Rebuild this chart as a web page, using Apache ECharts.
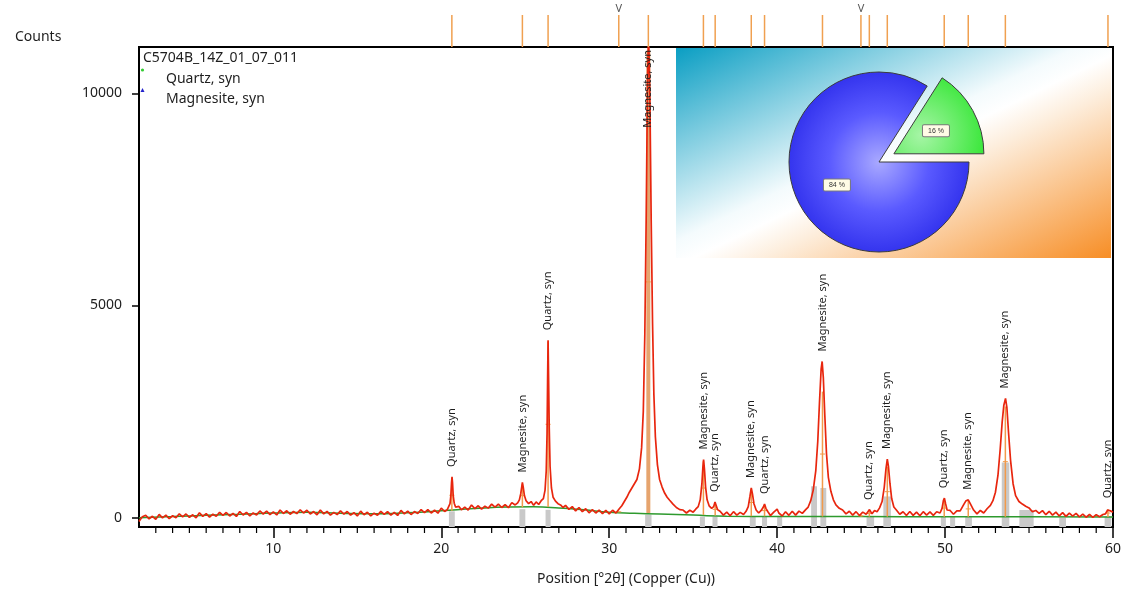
<!DOCTYPE html>
<html><head><meta charset="utf-8">
<script src="https://cdn.jsdelivr.net/npm/echarts@6/dist/echarts.min.js"></script>
<style>html,body{margin:0;padding:0;background:#fff}#c{width:1138px;height:590px}</style>
</head><body><div id="c"></div><script>
// ---------- data ----------
const sampleName = 'C5704B_14Z_01_07_011';
const phaseNames = ['Quartz, syn', 'Magnesite, syn'];
const yTitle = 'Counts';
const xTitle = 'Position [°2θ] (Copper (Cu))';
const xTicks = [10, 20, 30, 40, 50, 60];
const xMinorTicks = [3,4,5,6,7,8,9,11,12,13,14,15,16,17,18,19,21,22,23,24,25,26,27,28,29,31,32,33,34,35,36,37,38,39,41,42,43,44,45,46,47,48,49,51,52,53,54,55,56,57,58,59];
const yTicks = [0, 5000, 10000];

// measured scan [2theta, counts]
const profile = [
[2.0,-90],[2.1,-30],[2.2,20],[2.4,55],[2.6,-29],[2.8,33],[3.0,-40],[3.2,78],[3.4,-4],[3.6,59],[3.8,-23],[4.0,45],
[4.2,-2],[4.4,91],[4.6,19],[4.8,87],[5.0,5],[5.2,68],[5.4,-4],[5.6,114],[5.8,32],[6.0,95],[6.2,13],[6.4,81],
[6.6,34],[6.8,127],[7.0,55],[7.2,122],[7.4,39],[7.6,101],[7.8,28],[8.0,145],[8.2,63],[8.4,126],[8.6,44],[8.8,112],
[9.0,65],[9.2,158],[9.4,86],[9.6,154],[9.8,72],[10.0,135],[10.2,63],[10.4,181],[10.6,99],[10.8,162],[11.0,80],
[11.2,145],[11.4,95],[11.6,185],[11.8,110],[12.0,175],[12.2,87],[12.4,144],[12.6,66],[12.8,178],[13.0,90],
[13.2,148],[13.4,61],[13.6,124],[13.8,72],[14.0,160],[14.2,83],[14.4,146],[14.6,59],[14.8,117],[15.0,40],[15.2,154],
[15.4,68],[15.6,127],[15.8,41],[16.0,105],[16.2,57],[16.4,149],[16.6,76],[16.8,143],[17.0,60],[17.2,124],[17.4,53],
[17.6,172],[17.8,91],[18.0,155],[18.2,74],[18.4,143],[18.6,97],[18.8,191],[19.0,120],[19.2,190],[19.4,110],[19.6,175],
[19.8,105],[20.0,225],[20.2,145],[20.35,185],[20.45,230],[20.52,330],[20.57,520],[20.61,820],[20.64,960],[20.67,820],
[20.71,520],[20.77,340],[20.85,250],[20.95,215],[21.05,265],[21.2,185],[21.4,250],[21.6,180],[21.8,298],[22.0,215],
[22.2,280],[22.4,200],[22.6,270],[22.8,225],[23.0,320],[23.2,250],[23.4,320],[23.6,240],[23.8,305],[24.0,235],
[24.2,355],[24.4,300],[24.55,350],[24.65,420],[24.73,560],[24.79,720],[24.83,830],[24.88,720],[24.95,520],[25.05,400],
[25.2,330],[25.35,380],[25.5,290],[25.65,370],[25.8,310],[25.95,400],[26.08,450],[26.18,650],[26.25,1100],[26.3,2000],
[26.33,3200],[26.36,4180],[26.39,3300],[26.43,2100],[26.48,1200],[26.56,700],[26.66,480],[26.8,390],[26.95,330],
[27.1,300],[27.25,240],[27.4,290],[27.6,195],[27.8,260],[28.0,160],[28.2,240],[28.4,140],[28.6,210],[28.8,115],
[29.0,190],[29.2,110],[29.4,180],[29.6,95],[29.8,170],[30.0,90],[30.2,175],[30.4,110],[30.6,210],[30.75,280],
[30.9,380],[31.05,480],[31.2,600],[31.35,700],[31.5,800],[31.65,900],[31.8,1150],[31.93,1650],[32.03,2500],[32.12,4300],
[32.2,7000],[32.28,10200],[32.34,11500],[32.42,10000],[32.5,7000],[32.58,4600],[32.66,2900],[32.75,1900],[32.87,1250],
[33.0,900],[33.15,720],[33.3,580],[33.45,480],[33.6,410],[33.8,320],[34.0,240],[34.2,190],[34.4,180],[34.6,110],
[34.8,175],[35.0,130],[35.15,200],[35.3,260],[35.42,420],[35.52,800],[35.58,1200],[35.62,1370],[35.67,1150],[35.74,720],
[35.83,420],[35.95,280],[36.1,220],[36.22,260],[36.3,370],[36.36,300],[36.45,190],[36.6,150],[36.8,60],[37.0,130],
[37.2,45],[37.4,140],[37.6,60],[37.8,125],[38.0,75],[38.15,150],[38.28,260],[38.38,500],[38.46,700],[38.53,560],
[38.62,330],[38.75,180],[38.9,110],[39.05,170],[39.18,250],[39.25,320],[39.33,220],[39.45,140],[39.6,50],[39.8,130],
[40.0,200],[40.1,110],[40.3,40],[40.5,140],[40.7,55],[40.9,150],[41.1,60],[41.3,155],[41.5,100],[41.7,190],[41.85,250],
[42.0,400],[42.15,650],[42.3,1100],[42.42,1800],[42.52,2700],[42.62,3500],[42.68,3680],[42.75,3300],[42.84,2400],
[42.94,1500],[43.05,950],[43.2,620],[43.35,420],[43.5,300],[43.7,220],[43.9,180],[44.1,90],[44.3,150],[44.5,60],
[44.7,140],[44.9,50],[45.1,130],[45.3,80],[45.5,190],[45.65,90],[45.8,170],[45.95,140],[46.1,230],[46.25,380],
[46.38,720],[46.48,1150],[46.56,1380],[46.63,1200],[46.72,800],[46.82,450],[46.95,250],[47.1,180],[47.3,80],[47.5,140],
[47.7,50],[47.9,145],[48.1,55],[48.3,130],[48.5,45],[48.7,140],[48.9,60],[49.1,135],[49.3,55],[49.5,140],[49.7,110],
[49.82,220],[49.9,400],[49.96,460],[50.03,330],[50.12,180],[50.3,170],[50.5,80],[50.7,160],[50.9,160],[51.1,300],
[51.25,400],[51.38,420],[51.5,330],[51.7,180],[51.9,90],[52.1,170],[52.3,110],[52.5,210],[52.7,290],[52.85,400],
[53.0,600],[53.15,1000],[53.28,1600],[53.4,2250],[53.5,2650],[53.6,2810],[53.68,2600],[53.78,2000],[53.9,1350],
[54.05,800],[54.2,520],[54.4,380],[54.6,320],[54.8,270],[55.0,230],[55.2,140],[55.4,170],[55.6,100],[55.8,165],
[56.0,70],[56.2,150],[56.4,60],[56.6,130],[56.8,40],[57.0,120],[57.2,30],[57.4,105],[57.6,35],[57.8,100],[58.0,20],
[58.2,85],[58.4,10],[58.6,75],[58.8,5],[59.0,70],[59.2,20],[59.4,75],[59.55,90],[59.68,180],[59.76,220],[59.85,160],
[59.95,120],[60.0,130]
];
// fitted background [2theta, counts]
const background = [[2,0],[4,25],[6,55],[8,80],[10,110],[12,125],[14,105],[16,90],[18,115],[20,160],[22,215],[24,250],
[25.5,255],[27,230],[28.5,185],[30,130],[31.5,105],[33,85],[35,60],[37,35],[40,28],[45,25],[50,22],[55,20],[60,18]];

// reference pattern lines
const refPos      = [20.63, 24.83, 26.36, 30.57, 32.33, 35.61, 36.31, 38.46, 39.25, 42.70, 44.99, 45.49, 46.56, 49.95, 51.38, 53.59, 59.70];
const refPhase    = [0, 1, 0, -1, 1, 1, 0, 1, 0, 1, -1, 0, 1, 0, 1, 1, 0];   // -1 = unassigned (marked V)
const refStickBase= [165, 245, 250, 125, 110, 65, 50, 35, 32, 28, 25, 25, 25, 22, 22, 20, 18];
const refStickTop = [890, 790, 4150, 150, 11000, 1330, 340, 680, 300, 2970, 60, 170, 1200, 430, 390, 2620, 200];
const peakTop     = [960, 830, 4180, 185, 11500, 1370, 370, 700, 320, 3680, 90, 180, 1380, 460, 420, 2810, 220];
// peak list bars [centre, width, top]
const peakBars = [[20.63,0.35,150],[24.83,0.35,200],[26.36,0.3,185],[32.33,0.38,70],[35.55,0.3,25],[36.3,0.3,25],
[38.55,0.35,25],[39.25,0.3,25],[40.15,0.3,25],[42.2,0.35,740],[42.75,0.35,700],[45.55,0.45,25],[46.55,0.45,500],
[49.9,0.3,25],[50.45,0.3,25],[51.4,0.4,25],[53.6,0.45,1300],[54.85,0.85,180],[57.0,0.4,0],[59.7,0.4,25]];
// phase composition (%)
const phaseShares = [16, 84];

// ---------- chart ----------
const chart = echarts.init(document.getElementById('c'), null, {renderer: 'canvas'});
const FONT = '"Noto Sans", "Open Sans", sans-serif';
const TXT = '#1e1e1e';
const Y_MIN = -220, Y_MAX = 11090, X_MIN = 2, X_MAX = 60;

const insetGrad = new echarts.graphic.LinearGradient(0, 0, 0.379, 1.62, [
  {offset: 0, color: '#0a9ec3'}, {offset: 0.46, color: '#f4fbfd'}, {offset: 0.52, color: '#ffffff'},
  {offset: 0.6, color: '#fdeedd'}, {offset: 1, color: '#f78e26'}]);

const option = {
  animation: false,
  textStyle: {fontFamily: FONT},
  grid: {left: 139, right: 25, top: 47, bottom: 63, show: true, borderColor: '#000', borderWidth: 2,
         backgroundColor: 'transparent', outerBoundsMode: 'none', containLabel: false},
  xAxis: {
    type: 'value', min: X_MIN, max: X_MAX, position: 'bottom',
    name: xTitle, nameLocation: 'middle', nameGap: 45,
    nameTextStyle: {fontSize: 14, color: TXT, fontFamily: FONT},
    axisLine: {show: true, onZero: false, lineStyle: {color: '#000', width: 2}},
    axisTick: {show: true, customValues: xTicks, length: 11, lineStyle: {color: '#000', width: 1.5}},
    axisLabel: {show: true, customValues: xTicks, margin: 15, fontSize: 14, color: TXT, fontFamily: FONT},
    splitLine: {show: false}
  },
  yAxis: {
    type: 'value', min: Y_MIN, max: Y_MAX,
    axisLine: {show: true, onZero: false, lineStyle: {color: '#000', width: 2}},
    axisTick: {show: true, customValues: yTicks, length: 7, lineStyle: {color: '#000', width: 1.5}},
    axisLabel: {show: true, customValues: yTicks, margin: 17, fontSize: 14, color: TXT, fontFamily: FONT,
                formatter: v => String(v)},
    splitLine: {show: false}
  },
  graphic: [
    {type: 'rect', z: 1, shape: {x: 676, y: 48, width: 435, height: 210}, style: {fill: insetGrad}},
    {type: 'text', x: 15, y: 37, style: {text: yTitle, fill: TXT, font: '14px ' + FONT, verticalAlign: 'middle'}},
    {type: 'text', x: 143, y: 58, z: 20, style: {text: sampleName, fill: TXT, font: '14px ' + FONT, verticalAlign: 'middle'}},
    {type: 'text', x: 166, y: 79, z: 20, style: {text: phaseNames[0], fill: TXT, font: '14px ' + FONT, verticalAlign: 'middle'}},
    {type: 'text', x: 166, y: 99, z: 20, style: {text: phaseNames[1], fill: TXT, font: '14px ' + FONT, verticalAlign: 'middle'}},
    {type: 'circle', z: 20, shape: {cx: 142.5, cy: 70, r: 1.6}, style: {fill: '#33cc33'}},
    {type: 'polygon', z: 20, shape: {points: [[142.5, 88], [140.5, 92], [144.5, 92]]}, style: {fill: '#2222cc'}}
  ],
  series: [
    { // minor ticks on the 2theta axis
      type: 'custom', name: 'minorTicks', z: 6, clip: false, silent: true,
      data: xMinorTicks.map(v => [v]),
      renderItem: (params, api) => {
        const x = api.coord([api.value(0), 0])[0];
        const b = params.coordSys.y + params.coordSys.height;
        return {type: 'line', shape: {x1: x, y1: b, x2: x, y2: b + 6}, style: {stroke: '#000', lineWidth: 1.2}};
      }
    },
    { // peak list bars
      type: 'custom', name: 'peaks', z: 1, clip: true, silent: true,
      data: peakBars,
      renderItem: (params, api) => {
        const c = api.value(0), w = api.value(1), top = api.value(2);
        const p1 = api.coord([c - w / 2, top]);
        const p2 = api.coord([c + w / 2, Y_MIN]);
        return {type: 'rect', shape: {x: p1[0], y: p1[1], width: p2[0] - p1[0], height: p2[1] - p1[1]},
                style: {fill: '#c9c9c9'}};
      }
    },
    { // background
      type: 'line', name: 'background', data: background, smooth: true, showSymbol: false, z: 2,
      lineStyle: {color: '#2e9a2e', width: 1.5}, silent: true
    },
    { // reference sticks inside plot
      type: 'custom', name: 'sticks', z: 3, clip: true, silent: true,
      data: refPos.map((p, i) => [p, refStickBase[i], refStickTop[i]]),
      renderItem: (params, api) => {
        const x = api.value(0), b = api.value(1), t = api.value(2);
        const p1 = api.coord([x, b]), p2 = api.coord([x, t]), pm = api.coord([x, (b + t) / 2]);
        const big = t > 5000;
        return {type: 'group', children: [
          {type: 'line', shape: {x1: p1[0], y1: p1[1], x2: p2[0], y2: p2[1]},
           style: {stroke: big ? '#e6a46e' : '#f29a4a', lineWidth: big ? 4 : 1.5}},
          {type: 'line', shape: {x1: pm[0] - 2.5, y1: pm[1], x2: pm[0] + 2.5, y2: pm[1]},
           style: {stroke: '#f29a4a', lineWidth: 1}}
        ]};
      }
    },
    { // measured scan
      type: 'line', name: sampleName, data: profile, showSymbol: false, z: 4, clip: true,
      lineStyle: {color: '#e8260e', width: 1.7}, silent: true
    },
    { // phase labels at peaks
      type: 'custom', name: 'labels', z: 5, clip: true, silent: true,
      data: refPos.map((p, i) => [p, peakTop[i], refPhase[i]]).filter(d => d[2] >= 0),
      renderItem: (params, api) => {
        const name = phaseNames[api.value(2)];
        const p = api.coord([api.value(0), api.value(1)]);
        const cs = params.coordSys;
        let y = p[1] - 10, align = 'left';
        const est = name.length * 5.6;
        if (y - est < cs.y + 2) { y = cs.y + 3; align = 'right'; }
        return {type: 'text', x: p[0], y: y, rotation: Math.PI / 2,
                style: {text: name, fill: TXT, font: '11px ' + FONT, align: align, verticalAlign: 'middle'}};
      }
    },
    { // reference markers above plot
      type: 'custom', name: 'markers', z: 5, clip: false, silent: true,
      data: refPos.map((p, i) => [p, refPhase[i]]),
      renderItem: (params, api) => {
        const x = api.coord([api.value(0), 0])[0];
        const top = params.coordSys.y;
        const children = [{type: 'line', shape: {x1: x, y1: top - 32, x2: x, y2: top},
                           style: {stroke: '#f0a050', lineWidth: 1.5}}];
        if (api.value(1) < 0) {
          children.push({type: 'text', x: x, y: top - 38,
            style: {text: 'V', fill: '#555', font: '11px ' + FONT, align: 'center', verticalAlign: 'middle'}});
        }
        return {type: 'group', children};
      }
    },
    { // phase composition inset
      type: 'pie', name: 'composition', z: 10, center: [879, 162], radius: 90,
      startAngle: 57.6, clockwise: true, selectedMode: 'single', selectedOffset: 17,
      avoidLabelOverlap: false, silent: true,
      itemStyle: {borderColor: '#3c3c3c', borderWidth: 1},
      label: {show: true, position: 'inside', formatter: '{c} %', fontSize: 7, color: '#333',
              backgroundColor: '#fffbe6', borderColor: '#7a7a7a', borderWidth: 1, borderRadius: 1,
              padding: [2, 5], fontFamily: 'Liberation Sans, sans-serif'},
      labelLine: {show: false},
      emphasis: {disabled: true},
      data: [
        {value: phaseShares[0], name: phaseNames[0], selected: true,
         itemStyle: {color: {type: 'radial', x: 0.3, y: 0.75, r: 0.9,
           colorStops: [{offset: 0, color: '#a6f5a6'}, {offset: 1, color: '#33e633'}]}}},
        {value: phaseShares[1], name: phaseNames[1],
         itemStyle: {color: {type: 'radial', x: 0.5, y: 0.5, r: 0.5,
           colorStops: [{offset: 0, color: '#a9a9ff'}, {offset: 0.55, color: '#5a5aff'}, {offset: 1, color: '#3434ee'}]}}}
      ]
    }
  ]
};
chart.setOption(option);
</script></body></html>
